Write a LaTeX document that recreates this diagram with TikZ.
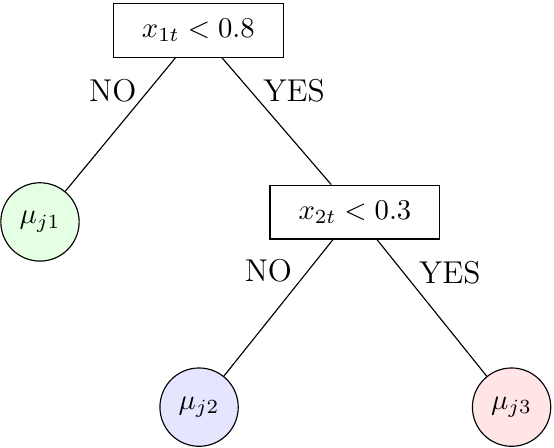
\documentclass[tikz,border=0pt]{standalone}
\begin{document}
\begin{tikzpicture}[split/.style={rectangle, draw, minimum width=2.08cm, minimum height=0.66cm}, leaf/.style={circle, draw, minimum size=0.96cm, inner sep=0pt}, answer/.style={font=\fontsize{11}{13}\selectfont}]
        \useasboundingbox (0,0) rectangle (6.79,-5.49);
        \node[split] (R) at (2.43, -0.37) {$x_{1t} < 0.8$};
        \node[split] (C) at (4.35, -2.60) {$x_{2t} < 0.3$};
        \node[leaf, fill=green!10] (L1) at (0.49, -2.72) {$\mu_{j1}$};
        \node[leaf, fill=blue!10] (L2) at (2.44, -4.99) {$\mu_{j2}$};
        \node[leaf, fill=red!10] (L3) at (6.27, -4.99) {$\mu_{j3}$};
        \draw (R) -- node[answer, left, pos=0.25, xshift=-0.5pt] {NO} (L1);
        \draw (R) -- node[answer, right, pos=0.26, xshift=1pt] {YES} (C);
        \draw (C) -- node[answer, left, pos=0.23, xshift=-2pt] {NO} (L2);
        \draw (C) -- node[answer, right, pos=0.24, xshift=2pt] {YES} (L3);
    \end{tikzpicture}
\end{document}
